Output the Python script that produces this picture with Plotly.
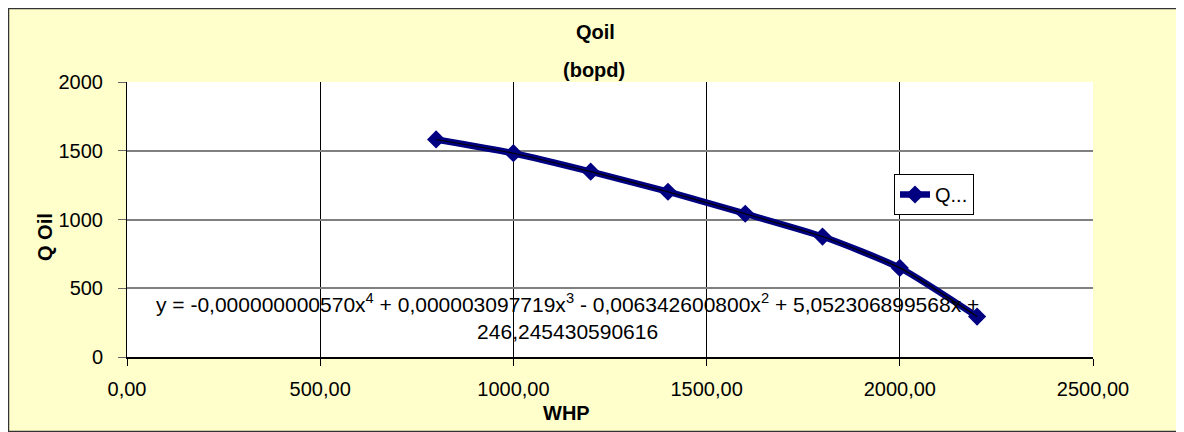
import plotly.graph_objects as go

whp = [800, 1000, 1200, 1400, 1600, 1800, 2000, 2200]
q_oil = [1582, 1482, 1348, 1202, 1042, 876, 648, 294]
x_ticks = [0, 500, 1000, 1500, 2000, 2500]
x_tick_labels = ["0,00", "500,00", "1000,00", "1500,00", "2000,00", "2500,00"]
y_ticks = [0, 500, 1000, 1500, 2000]
equation = ("y = -0,000000000570x<sup>4</sup> + 0,000003097719x<sup>3</sup> - 0,006342600800x<sup>2</sup>"
            " + 5,052306899568x +<br>246,245430590616")

# the page body has an 8px margin, so the figure starts at (8, 8) on screen
OFF = 8
W, H = 1184 - OFF, 432 - OFF
# plot area in screen pixels
L, R, T, B = 127, 1093, 82, 357
pw, ph = R - L, B - T


def px_x(v):
    return (v - L) / pw


def px_y(v):
    return (B - v) / ph


font = "Liberation Sans, Arial, sans-serif"

fig = go.Figure()
fig.add_trace(go.Scatter(x=whp, y=q_oil, mode="lines+markers", name="Q...",
                         line=dict(color="#000080", width=6.5, shape="spline", smoothing=0.6),
                         marker=dict(symbol="diamond", size=14, color="#000080")))
# trend line (thin black)
fig.add_trace(go.Scatter(x=whp, y=q_oil, mode="lines", showlegend=False,
                         line=dict(color="black", width=1.2, shape="spline", smoothing=0.6),
                         hoverinfo="skip"))

fig.update_layout(
    width=W, height=H,
    margin=dict(l=L - OFF, r=W - (R - OFF), t=T - OFF, b=H - (B - OFF)),
    paper_bgcolor="white", plot_bgcolor="white",
    font=dict(family=font, size=20, color="black"),
    showlegend=True,
    legend=dict(x=px_x(894), y=px_y(174), xanchor="left", yanchor="top",
                bgcolor="white", bordercolor="black", borderwidth=1,
                font=dict(size=20), itemwidth=30),
)
fig.update_xaxes(range=[0, 2500], tickvals=x_ticks, ticktext=x_tick_labels,
                 showgrid=True, gridcolor="black", gridwidth=1,
                 ticks="outside", ticklen=7, tickcolor="black", ticklabelstandoff=6,
                 showline=True, linecolor="black", linewidth=1.5, mirror=False, zeroline=False)
fig.update_yaxes(range=[0, 2000], tickvals=y_ticks,
                 showgrid=True, gridcolor="#808080", gridwidth=1.5,
                 ticks="outside", ticklen=8, tickcolor="#666666", ticklabelstandoff=11,
                 showline=True, linecolor="black", mirror=False, zeroline=False)

fig.add_annotation(text="<b>Qoil</b>", xref="paper", yref="paper", x=px_x(595), y=px_y(32),
                   xanchor="center", yanchor="middle", showarrow=False, font=dict(size=20))
fig.add_annotation(text="<b>(bopd)</b>", xref="paper", yref="paper", x=px_x(594), y=px_y(70),
                   xanchor="center", yanchor="middle", showarrow=False, font=dict(size=20))
fig.add_annotation(text="<b>WHP</b>", xref="paper", yref="paper", x=px_x(566), y=px_y(413),
                   xanchor="center", yanchor="middle", showarrow=False, font=dict(size=20))
fig.add_annotation(text="<b>Q Oil</b>", xref="paper", yref="paper", x=px_x(45), y=px_y(237),
                   xanchor="center", yanchor="middle", showarrow=False, textangle=-90,
                   font=dict(size=20))
fig.add_annotation(text=equation, xref="paper", yref="paper", x=px_x(567), y=px_y(316),
                   xanchor="center", yanchor="middle", showarrow=False, font=dict(size=21))

# chart background with border, then white plot area on top
fig.add_shape(type="rect", xref="paper", yref="paper",
              x0=px_x(8.5), x1=px_x(1179.5), y0=px_y(431.5), y1=px_y(8.5),
              line=dict(color="#333333", width=1.5), fillcolor="#FFFFCC", layer="below")
fig.add_shape(type="rect", xref="paper", yref="paper", x0=0, x1=1, y0=0, y1=1,
              line=dict(width=0), fillcolor="white", layer="below")

fig.write_html("out.html")
